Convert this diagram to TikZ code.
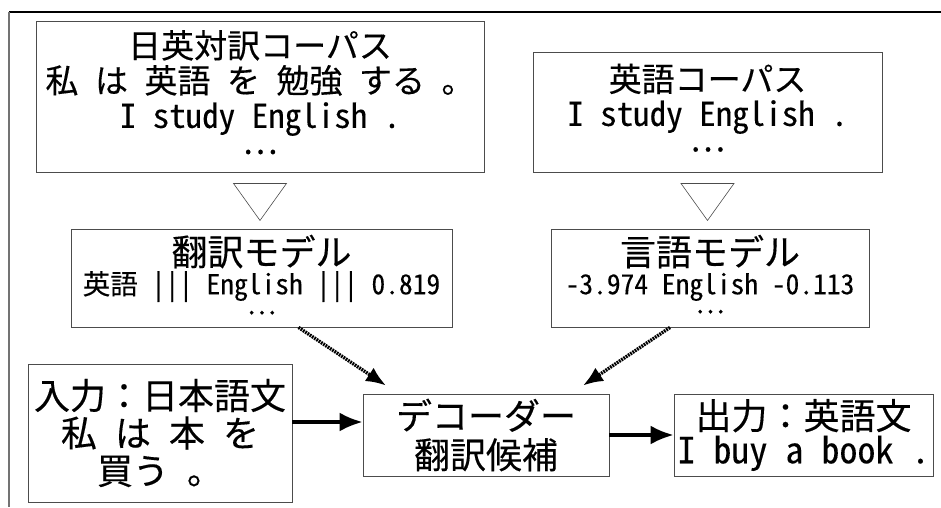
\documentclass[tikz,border=0pt]{standalone}
\usepackage{fontspec}
\setmainfont{Noto Sans CJK JP}[FakeBold=0.3]
\newfontfamily\jpf{Noto Sans CJK JP}[FakeBold=0.3]
\newfontfamily\hwf{Noto Sans CJK JP}[RawFeature=+hwid,FakeBold=0.2]
\usetikzlibrary{arrows.meta,calc}
\newcommand\hsp{\hspace{0.5em}}
\newcommand\fs[2]{\fontsize{#1}{#2}\selectfont}
\newcommand\mydots[1]{\raisebox{#1}{…}}
\begin{document}
\begin{tikzpicture}[x=1pt,y=-1pt,
  box/.style={draw=black!70,line width=0.9pt,rectangle,inner sep=0pt,align=center,text=black},
  flow/.style={-{Latex[length=23pt,width=19pt]},line width=3.2pt},
  dotflow/.style={-{Latex[length=20pt,width=16pt]},line width=3.4pt,dash pattern=on 1.8pt off 0.9pt},
  tri/.style={draw=black!70,line width=0.6pt}]
\useasboundingbox (0,0) rectangle (941,507);
\draw[line width=1.5pt] (9,12) -- (941,12);
\draw[black!55,line width=2pt] (9,12) -- (9,507);

\node[box,minimum width=448pt,minimum height=151pt,font=\fs{33}{35}] (b1) at (260,96.5)
  {日英対訳コーパス\\私\hsp は\hsp 英語\hsp を\hsp 勉強\hsp する\hsp 。\\{\hwf I study English .}\\\mydots{9pt}};
\node[box,minimum width=349pt,minimum height=120pt,font=\fs{33}{34.5}] (b2) at (707.5,112)
  {英語コーパス\\{\hwf I study English .}\\\mydots{9pt}};
\node[box,minimum width=381pt,minimum height=98pt,font=\fs{27.5}{28.8}] (b3) at (261.5,278)
  {{\fs{36}{28.8}翻訳モデル}\\英語{\hwf\ ||| English ||| 0.819}\\[-1.8pt]\mydots{7pt}};
\node[box,minimum width=318pt,minimum height=98pt,font=\fs{27.5}{28.8}] (b4) at (710,278)
  {{\fs{36}{28.8}言語モデル}\\{\hwf -3.974 English -0.113}\\[-1.8pt]\mydots{8pt}};
\node[box,minimum width=264pt,minimum height=138pt,font=\fs{36}{37.5}] (b5) at (160,433)
  {入力：日本語文\\私\hsp は\hsp 本\hsp を\\買う\hsp 。};
\node[box,minimum width=246pt,minimum height=82pt,font=\fs{36}{39}] (b6) at (486,435)
  {デコーダー\\翻訳候補};
\node[box,minimum width=259pt,minimum height=82pt,font=\fs{36}{34}] (b7) at (803.5,435)
  {出力：英語文\\{\hwf I buy a book .}};

\draw[tri] ([xshift=-26.5pt,yshift=-11pt]b1.south) -- ([xshift=26.5pt,yshift=-11pt]b1.south) -- ([yshift=-48pt]b1.south) -- cycle;
\draw[tri] ([xshift=-26.5pt,yshift=-11pt]b2.south) -- ([xshift=26.5pt,yshift=-11pt]b2.south) -- ([yshift=-48pt]b2.south) -- cycle;

\draw[dotflow] ([xshift=37pt]b3.south) -- ([xshift=-100pt,yshift=8pt]b6.north);
\draw[dotflow] ([xshift=-40pt]b4.south) -- ([xshift=97pt,yshift=8pt]b6.north);

\draw[flow] ([yshift=11pt]b5.east) -- ([yshift=11pt]b5.east -| b6.west);
\draw[flow] (b6.east) -- (b7.west);
\end{tikzpicture}
\end{document}
